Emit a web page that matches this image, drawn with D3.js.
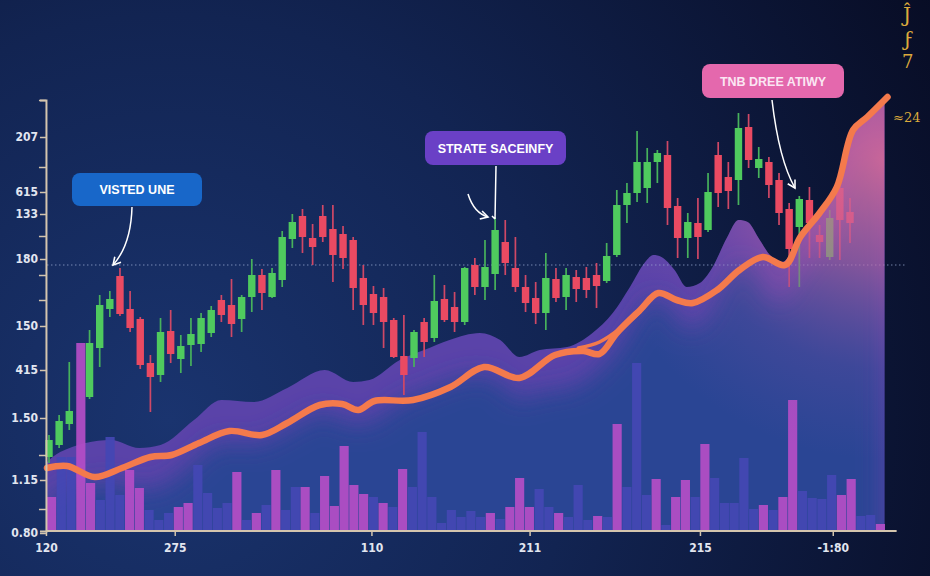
<!DOCTYPE html>
<html><head><meta charset="utf-8">
<script src="https://cdn.jsdelivr.net/npm/d3@7/dist/d3.min.js"></script>
<style>html,body{margin:0;padding:0;background:#0d1838;}svg{display:block}</style>
</head><body><svg id="c" width="930" height="576"></svg>
<script>
// ---------- DATA ----------
const days = [0,1,2].concat(d3.range(4,80));
const opens  = [73,85,106,133,182,221,254,221,211,167,155,199,171,185,186,197,230,225,211,233,255,233,250,291,314,292,314,301,296,290,252,236,233,210,174,172,208,192,231,223,208,265,243,256,288,262,243,232,217,251,233,253,252,255,249,275,325,337,342,368,375,324,292,307,300,375,353,350,403,362,368,350,321,303,330,295,273,342,318];
const closes = [90,109,119,187,225,231,216,202,165,153,198,176,184,196,212,220,215,206,233,255,237,257,293,308,293,283,293,275,272,242,225,217,208,173,155,198,188,229,210,208,262,243,263,300,267,243,227,217,252,232,255,241,240,244,274,325,337,368,368,377,322,292,308,293,338,337,339,402,370,371,345,317,281,331,307,288,312,310,307];
const highs  = [95,115,168,200,235,239,262,239,213,175,212,220,195,212,217,224,235,251,235,271,261,262,299,316,321,306,325,325,304,293,265,244,242,212,215,200,212,255,245,238,263,272,290,313,310,293,255,248,277,262,262,260,263,267,287,340,347,399,382,380,389,332,317,332,357,388,368,417,416,383,373,357,327,334,343,305,320,345,332];
const lows   = [67,82,100,131,163,213,214,198,161,118,148,167,157,164,178,193,208,193,198,218,220,232,243,282,277,265,288,248,261,220,205,205,182,172,135,163,173,188,208,198,205,235,230,240,255,238,218,206,200,228,220,228,232,222,247,273,307,328,327,347,305,272,272,271,298,323,321,325,362,352,332,305,243,243,272,272,270,270,287];

const volumes = [33,73,73,187,47,30,93,35,60,42,20,10,17,23,27,65,37,22,27,58,10,17,25,60,20,43,43,17,54,24,84,45,36,33,27,23,61,43,98,33,7,20,13,19,13,17,11,23,52,23,41,23,17,13,45,10,14,13,106,43,167,35,51,5,33,50,33,86,52,27,27,72,21,25,20,33,130,39,32,31,55,35,51,14,15,6];
const volSide = [1,0,0,1,1,0,0,0,1,1,0,0,0,1,1,0,0,0,0,1,0,1,0,1,0,0,1,0,1,1,1,1,1,0,1,0,1,0,0,0,0,0,0,0,0,1,0,1,1,1,0,0,1,0,0,0,1,0,1,0,0,0,1,0,1,1,0,1,0,0,0,0,0,1,0,1,1,0,0,0,0,1,1,0,0,1];

const areaT = [-0.2,1.1,6.1,8.9,11.0,14.3,17.0,20.2,23.5,27.2,30.0,31.6,34.6,37.0,39.5,42.5,44.5,46.4,48.4,51.1,53.6,55.6,57.3,58.8,59.6,60.4,61.7,62.9,64.2,65.4,66.9,68.0,68.9,70.1,71.1,72.3,74.1,76.0,77.7,79.3,80.7,82.4];
const areaV = [68,78,90,82,85,110,130,128,142,160,148,150,170,180,190,197,190,173,180,183,197,217,243,268,275,273,260,243,247,262,293,310,308,290,275,268,293,317,343,400,413,430];

const lineT = [-0.2,1.8,4.5,7.2,10.0,12.1,14.8,17.8,21.0,23.5,26.7,28.9,30.5,32.1,35.9,39.6,42.9,46.4,49.9,52.7,54.3,56.0,58.3,60.1,61.9,63.5,65.9,68.1,70.4,72.6,74.1,76.0,77.7,79.3,80.7,82.7];
const lineV = [62,64,53,62,73,75,87,99,95,107,125,126,120,129,130,143,163,152,175,179,176,197,220,237,230,227,240,260,273,265,293,317,343,400,413,433];
const line2T = [52.2,54.3,56.8,58.3];
const line2V = [182,188,205,218];

const yTickVals = [393,338,316,271,204,160,112,50,-3];
const yTickLabels = ["207","615","133","180","150","415","1.50","1.15","0.80"];
const yMinorVals = [430,363,294,255,230,75,21];
const xTickVals = [-0.3,12.4,31.8,47.4,64.2,77.3];
const xTickLabels = ["120","275","110","211","215","-1:80"];
const refLevel = 265;
const calloutTexts = ["VISTED UNE","STRATE SACEINFY","TNB DREE ATIWY"];

// ---------- CHART ----------
const W=930,H=576;
const svg=d3.select('#c');
const defs=svg.append('defs');
function grad(el,stops){stops.forEach(s=>el.append('stop').attr('offset',s[0]).attr('stop-color',s[1]).attr('stop-opacity',s[2]==null?1:s[2]));return el;}
grad(defs.append('radialGradient').attr('id','bg').attr('gradientUnits','userSpaceOnUse').attr('cx',170).attr('cy',420).attr('r',900),
  [[0,'#1a346f'],[0.45,'#122452'],[1,'#070b22']]);
grad(defs.append('radialGradient').attr('id','pink').attr('gradientUnits','userSpaceOnUse').attr('cx',885).attr('cy',160).attr('r',300),
  [[0,'#e06c98',0.85],[0.35,'#c060a0',0.6],[0.7,'#8a52ac',0.2],[1,'#7a50b0',0]]);
defs.append('filter').attr('id','blur').attr('x','-20%').attr('y','-20%').attr('width','140%').attr('height','140%')
  .append('feGaussianBlur').attr('stdDeviation',12);
const mk=defs.append('marker').attr('id','arr').attr('viewBox','0 0 10 10').attr('refX',8).attr('refY',5)
  .attr('markerWidth',7).attr('markerHeight',7).attr('orient','auto-start-reverse');
mk.append('path').attr('d','M1,1 L8,5 L1,9').attr('fill','none').attr('stroke','#fff').attr('stroke-width',1.5);

svg.append('rect').attr('width',W).attr('height',H).attr('fill','url(#bg)');

const xs=d3.scaleLinear().domain([0,79]).range([49,850]);
const y=d3.scaleLinear().domain([-1,430]).range([531,100]);
const xv=d3.scaleBand().domain(d3.range(volumes.length)).range([47,885]).paddingInner(0.06);
const yv=d3.scaleLinear().domain([0,200]).range([530,330]);

const areaPts=areaT.map((t,i)=>({t,v:areaV[i]}));
const areaGen=d3.area().x(d=>xs(d.t)).y0(y(-1)).y1(d=>y(d.v)).curve(d3.curveMonotoneX);
const areaD=areaGen(areaPts);
defs.append('clipPath').attr('id','ac').append('path').attr('d',areaD);

// area layers
svg.append('path').attr('d',areaD).attr('fill','#5a43a9');
svg.append('g').attr('clip-path','url(#ac)').append('path').attr('d',areaD)
  .attr('transform','translate(0,42)').attr('fill','#2a4494').attr('filter','url(#blur)');

// volume bars
svg.append('g').selectAll('rect').data(volumes).join('rect')
  .attr('x',(d,i)=>xv(i)).attr('width',xv.bandwidth())
  .attr('y',d=>yv(d)).attr('height',d=>yv(0)-yv(d))
  .attr('fill',(d,i)=>volSide[i]?'#b44ec6':'#4447b4').attr('opacity',0.93);

// reference dotted line
svg.append('line').attr('x1',xs(-0.2)).attr('x2',xs(84.5)).attr('y1',y(refLevel)).attr('y2',y(refLevel))
  .attr('stroke','#9fb0d8').attr('stroke-opacity',0.7).attr('stroke-width',1).attr('stroke-dasharray','1.5,2.5');

// candles
const candles=days.map((d,i)=>({d,o:opens[i],h:highs[i],l:lows[i],c:closes[i]}));
const cg=svg.append('g');
const up=d=>d.c>=d.o;
cg.selectAll('line').data(candles).join('line')
  .attr('x1',d=>xs(d.d)).attr('x2',d=>xs(d.d)).attr('y1',d=>y(d.h)).attr('y2',d=>y(d.l))
  .attr('stroke',d=>up(d)?'#47b25c':'#cf4866').attr('stroke-width',1.7);
cg.selectAll('rect').data(candles).join('rect')
  .attr('x',d=>xs(d.d)-3.7).attr('width',7.4)
  .attr('y',d=>y(Math.max(d.o,d.c))).attr('height',d=>Math.max(2,Math.abs(y(d.o)-y(d.c))))
  .attr('fill',d=>up(d)?'#4fca5e':'#ea4a62');

// pink overlay on the right part of area
svg.append('path').attr('d',areaD).attr('fill','url(#pink)');

// orange lines
const lineGen=d3.line().x(d=>xs(d.t)).y(d=>y(d.v)).curve(d3.curveCatmullRom.alpha(0.5));
svg.append('path').attr('d',lineGen(line2T.map((t,i)=>({t,v:line2V[i]}))))
  .attr('fill','none').attr('stroke','#f47a4c').attr('stroke-width',3.5).attr('stroke-linecap','round');
svg.append('path').attr('d',lineGen(lineT.map((t,i)=>({t,v:lineV[i]}))))
  .attr('fill','none').attr('stroke','#f47a4c').attr('stroke-width',6.5).attr('stroke-linejoin','round').attr('stroke-linecap','round');

// axes
const axCol='#d4c5ae';
const font="'Liberation Sans Narrow','DejaVu Sans Condensed','Liberation Sans',sans-serif";
const ya=svg.append('g').attr('transform',`translate(${xs(-0.3)},0)`)
  .call(d3.axisLeft(y).tickValues(yTickVals).tickFormat((d,i)=>yTickLabels[i]).tickSize(6).tickPadding(2));
const ym=svg.append('g').attr('transform',`translate(${xs(-0.3)},0)`)
  .call(d3.axisLeft(y).tickValues(yMinorVals).tickFormat('').tickSize(7));
ym.select('.domain').remove();
[ya,ym].forEach(g=>{g.selectAll('.domain').attr('stroke',axCol).attr('stroke-width',2);g.selectAll('.tick line').attr('stroke',axCol).attr('stroke-width',1.5);});
ya.selectAll('.tick text').attr('fill','#e2e6f0').attr('font-family',font).attr('font-weight','bold').attr('font-size',12);

const xa=svg.append('g').attr('transform',`translate(0,${y(-1)})`)
  .call(d3.axisBottom(xs).tickValues(xTickVals).tickFormat((d,i)=>xTickLabels[i]).tickSize(5).tickPadding(7));
xa.select('.domain').remove();
xa.append('line').attr('x1',xs(-0.3)).attr('x2',xs(83.6)).attr('stroke',axCol).attr('stroke-width',2);
xa.selectAll('.tick line').attr('stroke',axCol).attr('stroke-width',1.5);
xa.selectAll('.tick text').attr('fill','#e2e6f0').attr('font-family',font).attr('font-weight','bold').attr('font-size',12);

// callouts
const boxes=[
  {x:72,y:173,w:130,h:33,fill:'#1867c9',tc:'#ffffff'},
  {x:425,y:131,w:141,h:34,fill:'#6a40c6',tc:'#ffffff'},
  {x:702,y:64,w:142,h:34,fill:'#e468ad',tc:'#fbe6f3'}
];
boxes.forEach((b,i)=>{
  svg.append('rect').attr('x',b.x).attr('y',b.y).attr('width',b.w).attr('height',b.h).attr('rx',8).attr('fill',b.fill);
  svg.append('text').attr('x',b.x+b.w/2).attr('y',b.y+b.h/2+4.5).attr('text-anchor','middle')
    .attr('font-family',"'Liberation Sans',Arial,sans-serif").attr('font-weight','bold').attr('font-size',12.5)
    .attr('fill',b.tc).text(calloutTexts[i]);
});
const arrows=['M132,207 Q131,245 113,265','M468,194 Q474,213 488,217','M772,100 Q779,160 795,188'];
arrows.forEach(p=>svg.append('path').attr('d',p).attr('fill','none').attr('stroke','#fff').attr('stroke-width',1.5).attr('marker-end','url(#arr)'));
svg.append('path').attr('d','M496,166 L495,219 M492,216 L495,219').attr('fill','none').attr('stroke','#fff').attr('stroke-width',1.5);

// gold glyphs top-right
const gold='#dcaa3c';
[['Ĵ',903,22,20],['ϝ',904,46,20],['7',902,68,18]].forEach(g=>svg.append('text').attr('x',g[1]).attr('y',g[2]).attr('font-size',g[3])
  .attr('font-family','DejaVu Serif,serif').attr('fill',gold).text(g[0]));
svg.append('text').attr('x',893).attr('y',122).attr('font-size',13).attr('font-family','DejaVu Serif,serif').attr('fill',gold).text('≈24');
</script></body></html>
